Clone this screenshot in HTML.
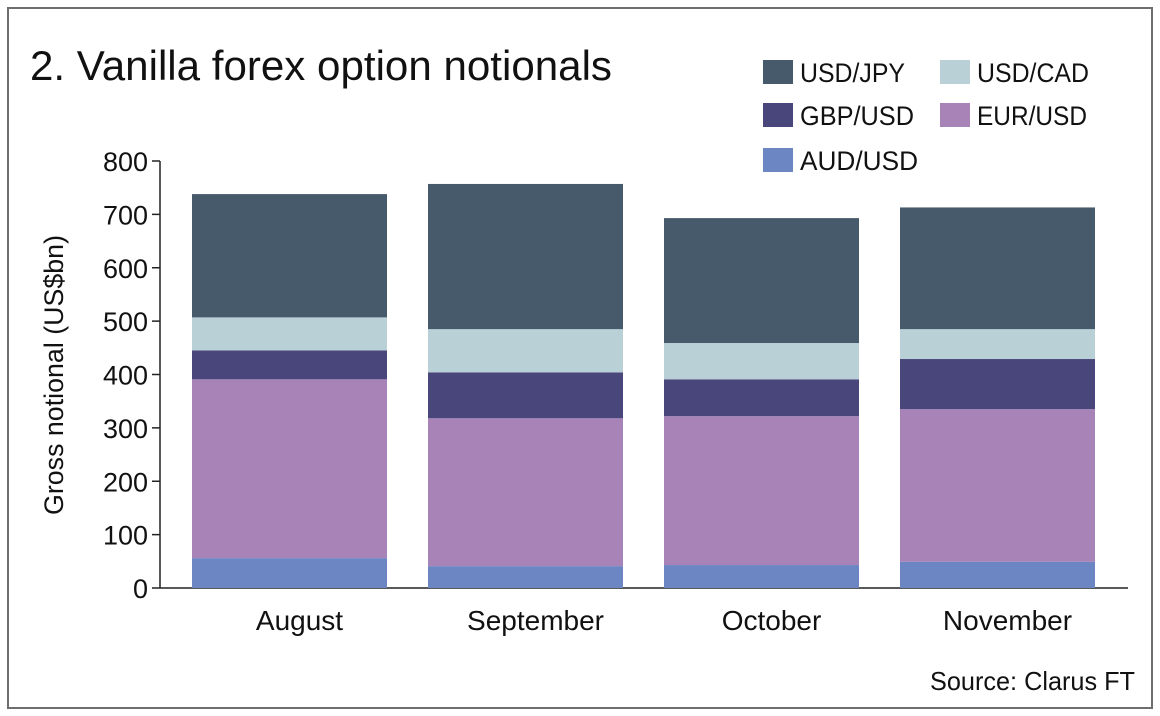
<!DOCTYPE html>
<html><head><meta charset="utf-8"><style>
body{margin:0;background:#fff;}
svg{display:block;font-family:"Liberation Sans",sans-serif;}
</style></head><body>
<svg id="chart" width="1160" height="716">
<rect x="8" y="8" width="1144" height="700" fill="#fff" stroke="#6e6e6e" stroke-width="2"/>
<text x="30" y="80" font-size="42" fill="#111" textLength="582" lengthAdjust="spacingAndGlyphs">2. Vanilla forex option notionals</text>
<g id="legend"></g>
<g id="axes"></g>
<g id="bars"></g>
<text x="1135" y="690" font-size="26" text-anchor="end" fill="#111" textLength="205" lengthAdjust="spacingAndGlyphs">Source: Clarus FT</text>
</svg>
<script>
const categories=["August","September","October","November"];
const seriesNames=["AUD/USD","EUR/USD","GBP/USD","USD/CAD","USD/JPY"];
const audUsd=[56,41,43,49];
const eurUsd=[335,277,279,286];
const gbpUsd=[54,86,69,94];
const usdCad=[62,81,68,56];
const usdJpy=[231,272,234,228];
const yTicks=[0,100,200,300,400,500,600,700,800];
const colors=["#6b86c2","#a783b8","#48467a","#b9d0d6","#465a6c"];
const series=[audUsd,eurUsd,gbpUsd,usdCad,usdJpy];
const NS="http://www.w3.org/2000/svg";
const x0=160,x1=1128,yBase=588,yTop=161,yMax=800;
const bandW=236, barW=195, firstBar=192;
const yS=v=>yBase-(v/yMax)*(yBase-yTop);
const xS=i=>firstBar+bandW*i;
function mk(t,a,p){const e=document.createElementNS(NS,t);for(const k in a)e.setAttribute(k,a[k]);p.appendChild(e);return e;}
const axes=document.getElementById('axes'),bars=document.getElementById('bars'),leg=document.getElementById('legend');
yTicks.forEach(v=>{
  const l=mk('line',{x1:x0-8,x2:x0,y1:yS(v),y2:yS(v),stroke:'#222','stroke-width':1.5},axes);
  
  
  const t=mk('text',{x:x0-12,y:yS(v)+10,'font-size':27,'text-anchor':'end',fill:'#111'},axes);
  t.textContent=v;
  
  
});
const ya=mk('line',{x1:x0,x2:x0,y1:yTop,y2:yBase,stroke:'#222','stroke-width':1.5},axes);


const yt=mk('text',{transform:'translate(63,375) rotate(-90)','font-size':27,'text-anchor':'middle',fill:'#111',textLength:280,lengthAdjust:'spacingAndGlyphs'},axes);
yt.textContent='Gross notional (US$bn)';


categories.forEach((c,i)=>{
  let cum=0;
  series.forEach((s,k)=>{
    const v=s[i];
    const r=mk('rect',{x:xS(i),y:yS(cum+v),width:barW,height:yS(cum)-yS(cum+v),fill:colors[k]},bars);
    
    
    cum+=v;
  });
  const t=mk('text',{x:xS(i)+barW/2+10,y:630,'font-size':28,'text-anchor':'middle',fill:'#111'},axes);
  t.textContent=c;
  
  
});
const xa=mk('line',{x1:x0,x2:x1,y1:yBase,y2:yBase,stroke:'#222','stroke-width':1.5},axes);


const legItems=[[4,763,60,105],[3,940,60,112],[2,763,103,114],[1,940,103,110],[0,763,148,118]];
legItems.forEach(([k,lx,ly,tw])=>{
  const r=mk('rect',{x:lx,y:ly,width:30,height:24,fill:colors[k]},leg);
  
  
  const t=mk('text',{x:lx+37,y:ly+22,'font-size':27,fill:'#111',textLength:tw,lengthAdjust:'spacingAndGlyphs'},leg);
  t.textContent=seriesNames[k];
  
  
});
</script>
</body></html>
